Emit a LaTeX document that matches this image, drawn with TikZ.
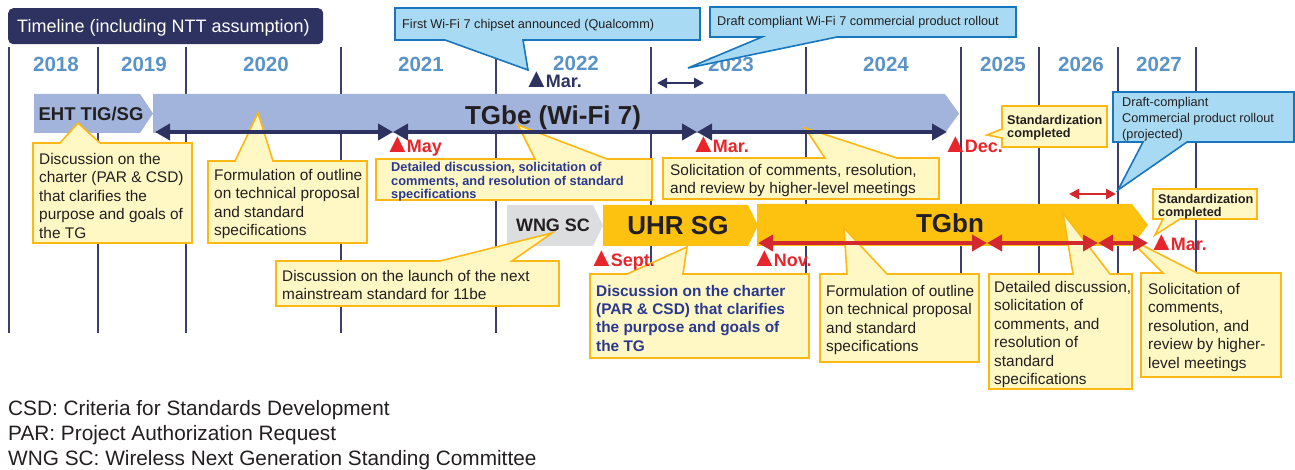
\documentclass[tikz,border=0pt]{standalone}
\usepackage{fontspec}
\setmainfont{Liberation Sans}
\usetikzlibrary{arrows.meta}
\definecolor{navy}{HTML}{2E3260}
\definecolor{navyline}{HTML}{3B3F70}
\definecolor{yearblue}{HTML}{5A93C7}
\definecolor{lblue}{HTML}{A2B4DB}
\definecolor{wgray}{HTML}{DCDDDF}
\definecolor{orng}{HTML}{FDC20F}
\definecolor{mred}{HTML}{D2282E}
\definecolor{tred}{HTML}{E7252A}
\definecolor{yfill}{HTML}{FFF8C5}
\definecolor{yline}{HTML}{FCB814}
\definecolor{bfill}{HTML}{A8DBF3}
\definecolor{bline}{HTML}{1976BC}
\definecolor{txt}{HTML}{231F20}
\definecolor{nblue}{HTML}{2A3990}
\newcommand{\fsz}[2]{\fontsize{#1}{#2}\selectfont}
\newcommand{\tri}{{\fontsize{27}{27}\selectfont ▲}\kern-4pt}
\begin{document}
\begin{tikzpicture}[x=1pt,y=-1pt,
  vline/.style={draw=navyline,line width=1.6pt},
  year/.style={font=\bfseries\fsz{20.5}{21},text=yearblue,inner sep=0pt},
  barlabel/.style={anchor=base,inner sep=0pt,text=txt,font=\bfseries\fsz{#1}{#1}},
  ycall/.style={fill=yfill,draw=yline,line width=1.6pt,line join=miter},
  bcall/.style={fill=bfill,draw=bline,line width=1.6pt,line join=miter},
  ctext/.style={anchor=north west,inner sep=0pt,align=left,text=txt,font=\fsz{15.4}{18.5}},
  ctextb/.style={anchor=north west,inner sep=0pt,align=left,text=nblue,font=\bfseries\fsz{15.4}{18.3}},
  ctexts/.style={anchor=north west,inner sep=0pt,align=left,text=nblue,font=\bfseries\fsz{12.8}{13.6}},
  stdtext/.style={anchor=north west,inner sep=0pt,align=left,text=txt,font=\bfseries\fsz{12.7}{13.3}},
  btext/.style={anchor=north west,inner sep=0pt,align=left,text=txt,font=\fsz{12.7}{15.8}},
  bigarrow/.style={line width=4.5pt,{Triangle[length=15pt,width=16pt]}-{Triangle[length=15pt,width=16pt]}},
  smallarrow/.style={line width=2.5pt,{Triangle[length=10pt,width=10pt]}-{Triangle[length=10pt,width=10pt]}},
  marker/.style={anchor=base west,inner sep=0pt,font=\bfseries\fsz{18}{18}},
  legend/.style={anchor=base west,inner sep=0pt,text=txt,font=\fsz{20.8}{25}}
]
\useasboundingbox (0,0) rectangle (1295,470);

% year separators
\foreach \x in {9,98,186,341,496,651,806,961,1039,1118,1196}
  \draw[vline] (\x,47) -- (\x,333);

% title
\node[fill=navy,rounded corners=5pt,minimum width=315pt,minimum height=36pt,anchor=north west,inner sep=0pt] (title) at (8,8) {};
\node[anchor=base west,text=white,font=\fsz{18}{18},inner sep=0pt] (titletext) at (17,33) {Timeline (including NTT assumption)};

% years
\node[year] (y2018) at (56,64) {2018};
\node[year] (y2019) at (144,64) {2019};
\node[year] (y2020) at (266,64) {2020};
\node[year] (y2021) at (421,64) {2021};
\node[year] (y2022) at (576,63) {2022};
\node[year] (y2023) at (731,64) {2023};
\node[year] (y2024) at (886,64) {2024};
\node[year] (y2025) at (1003,64) {2025};
\node[year] (y2026) at (1081,64) {2026};
\node[year] (y2027) at (1159,64) {2027};

% bars
\fill[lblue] (34,94) -- (140,94) -- (153,113.5) -- (140,133) -- (34,133) -- cycle;
\fill[lblue] (153,94) -- (945,94) -- (959,113.5) -- (945,133) -- (153,133) -- cycle;
\fill[wgray] (507,205) -- (593,205) -- (603,225.5) -- (593,246) -- (507,246) -- cycle;
\fill[orng] (603,205) -- (748,205) -- (758,225.5) -- (748,246) -- (603,246) -- cycle;
\fill[orng] (757,204) -- (1132,204) -- (1148,225) -- (1132,246) -- (757,246) -- cycle;

\node[barlabel=18.5] (eht) at (91,121) {EHT TIG/SG};
\node[barlabel=26] (tgbe) at (553,125) {TGbe (Wi-Fi 7)};
\node[barlabel=18] (wng) at (553,232) {WNG SC};
\node[barlabel=26] (uhr) at (678,235) {UHR SG};
\node[barlabel=26] (tgbn) at (950,233) {TGbn};

% yellow callouts
\path[ycall] (33,143) -- (60,143) -- (78,123) -- (100,143) -- (192,143) -- (192,243) -- (33,243) -- cycle;
\node[ctext] (tA) at (39,153) {Discussion on the\\charter (PAR \& CSD)\\that clarifies the\\purpose and goals of\\the TG};

\path[ycall] (208,161) -- (235,161) -- (258,113) -- (273,161) -- (367,161) -- (367,243) -- (208,243) -- cycle;
\node[ctext] (tB) at (214,169) {Formulation of outline\\on technical proposal\\and standard\\specifications};

\path[ycall] (376,159) -- (535,159) -- (518,125) -- (607,159) -- (652,159) -- (652,200) -- (376,200) -- cycle;
\node[ctexts] (tC) at (391,162) {Detailed discussion, solicitation of\\comments, and resolution of standard\\specifications};

\path[ycall] (663,158) -- (825,158) -- (805,128) -- (897,158) -- (939,158) -- (939,199) -- (663,199) -- cycle;
\node[ctext] (tD) at (670,164) {Solicitation of comments, resolution,\\and review by higher-level meetings};

\path[ycall] (1002,106) -- (1107,106) -- (1107,147) -- (1002,147) -- (1002,138) -- (987,135) -- (1002,129) -- cycle;
\node[stdtext] (tS1) at (1007,115) {Standardization\\completed};

\path[ycall] (276,261) -- (440,261) -- (552,233) -- (512,261) -- (559,261) -- (559,306) -- (276,306) -- cycle;
\node[ctext] (tE) at (282,270) {Discussion on the launch of the next\\mainstream standard for 11be};

\path[ycall] (590,274) -- (627,274) -- (687,247) -- (683,274) -- (809,274) -- (809,358) -- (590,358) -- cycle;
\node[ctextb] (tF) at (596,285) {Discussion on the charter\\(PAR \& CSD) that clarifies\\the purpose and goals of\\the TG};

\path[ycall] (820,274) -- (847,274) -- (844,228) -- (887,274) -- (979,274) -- (979,362) -- (820,362) -- cycle;
\node[ctext] (tG) at (826,285) {Formulation of outline\\on technical proposal\\and standard\\specifications};

\path[ycall] (989,274) -- (1073,274) -- (1063,213) -- (1110,274) -- (1132,274) -- (1132,389) -- (989,389) -- cycle;
\node[ctext] (tH) at (994,281) {Detailed discussion,\\solicitation of\\comments, and\\resolution of\\standard\\specifications};

\path[ycall] (1141,273) -- (1163,273) -- (1128,238) -- (1197,273) -- (1281,273) -- (1281,377) -- (1141,377) -- cycle;
\node[ctext] (tI) at (1148,283) {Solicitation of\\comments,\\resolution, and\\review by higher-\\level meetings};

\path[ycall] (1153,189) -- (1257,189) -- (1257,219) -- (1180,219) -- (1155,235) -- (1163,219) -- (1153,219) -- cycle;
\node[stdtext] (tS2) at (1158,194) {Standardization\\completed};

% blue callouts
\path[bcall] (395,8) -- (700,8) -- (700,40) -- (523,40) -- (528,70) -- (445,40) -- (395,40) -- cycle;
\node[btext] (tQ) at (402,19) {First Wi-Fi 7 chipset announced (Qualcomm)};

\path[bcall] (710,7) -- (1016,7) -- (1016,37) -- (837,37) -- (688,68) -- (762,37) -- (710,37) -- cycle;
\node[btext] (tR) at (717,16) {Draft compliant Wi-Fi 7 commercial product rollout};

\path[bcall] (1113,92) -- (1294,92) -- (1294,142) -- (1187,142) -- (1118,190) -- (1143,142) -- (1113,142) -- cycle;
\node[btext] (tS) at (1122,97) {Draft-compliant\\Commercial product rollout\\(projected)};

% arrows
\coordinate (n0) at (155,132);
\coordinate (n1) at (393,132);
\coordinate (n2) at (697,132);
\coordinate (n3) at (947,132);
\draw[bigarrow,navy] (n0) -- (n1);
\draw[bigarrow,navy] (n1) -- (n2);
\draw[bigarrow,navy] (n2) -- (n3);
\coordinate (s0) at (657,83);
\coordinate (s1) at (704,83);
\draw[smallarrow,navy] (s0) -- (s1);

\coordinate (r0) at (758,243);
\coordinate (r1) at (987,243);
\coordinate (r2) at (1098,243);
\coordinate (r3) at (1148,243);
\draw[bigarrow,mred] (r0) -- (r1);
\draw[bigarrow,mred] (r1) -- (r2);
\draw[bigarrow,mred] (r2) -- (r3);
\coordinate (t0) at (1069,194);
\coordinate (t1) at (1116,194);
\draw[smallarrow,mred] (t0) -- (t1);

% markers
\node[marker,text=tred] (mMay) at (384,153) {\tri May};
\node[marker,text=navy] (mMar1) at (523,88) {\tri Mar.};
\node[marker,text=tred] (mMar2) at (690,153) {\tri Mar.};
\node[marker,text=tred] (mDec) at (942,153) {\tri Dec.};
\node[marker,text=tred] (mSept) at (588,266) {\tri Sept.};
\node[marker,text=tred] (mNov) at (751,266) {\tri Nov.};
\node[marker,text=tred] (mMar3) at (1148,251) {\tri Mar.};

% legend
\node[legend] (leg1) at (8,415) {CSD: Criteria for Standards Development};
\node[legend] (leg2) at (8,440) {PAR: Project Authorization Request};
\node[legend] (leg3) at (8,465) {WNG SC: Wireless Next Generation Standing Committee};
\end{tikzpicture}
\end{document}
